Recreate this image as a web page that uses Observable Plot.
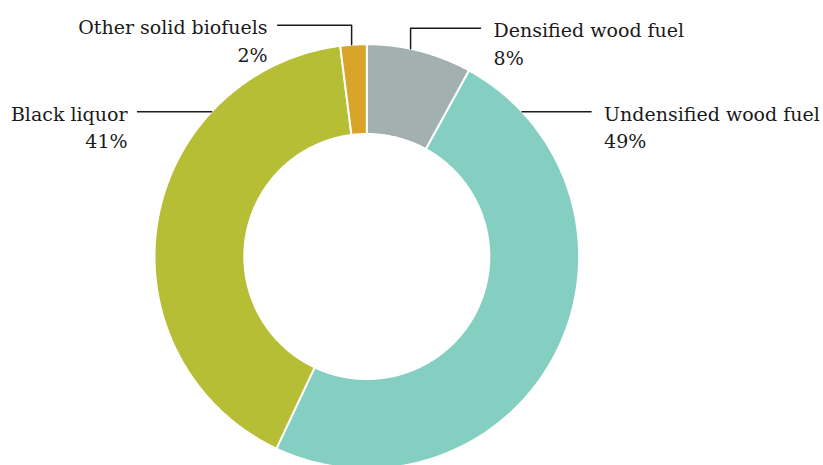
<!DOCTYPE html>
<html><head><meta charset="utf-8">
<script src="https://cdn.jsdelivr.net/npm/d3@7"></script>
<script src="https://cdn.jsdelivr.net/npm/@observablehq/plot@0.6"></script>
<style>html,body{margin:0;padding:0;background:#fff;overflow:hidden}</style>
</head><body><div id="chart"></div>
<script>
// ---- data ----
const categories = ["Densified wood fuel", "Undensified wood fuel", "Black liquor", "Other solid biofuels"];
const values = [8, 49, 41, 2];
const colors = ["#a3b0b0", "#85cec2", "#b6be35", "#d8a42a"];

// ---- layout (pixels / degrees) ----
const W = 823, H = 465;
const CX = 366.3, CY = 256, R = 212.3, INNER = 122.5 / 212.3;
// leader: anchor angle (deg from top, clockwise), vertical rise (px), horizontal run (px), text side
const leaders = [
  {angle: 11.9, rise: 20.5, run: 70, side: "start"},
  {angle: 47, rise: 0, run: 69, side: "start"},
  {angle: -47, rise: 0, run: -74, side: "end"},
  {angle: -4.1, rise: 19.5, run: -74, side: "end"}
];

const total = d3.sum(values);
const slices = [];
let cum = 0;
categories.forEach((cat, i) => {
  const a0 = cum / total * 2 * Math.PI;
  cum += values[i];
  const a1 = cum / total * 2 * Math.PI;
  const n = Math.max(4, Math.ceil((a1 - a0) / (Math.PI / 360)));
  const pts = [];
  for (let j = 0; j <= n; j++) { const a = a0 + (a1 - a0) * j / n; pts.push({cat, x: Math.sin(a), y: Math.cos(a)}); }
  for (let j = n; j >= 0; j--) { const a = a0 + (a1 - a0) * j / n; pts.push({cat, x: INNER * Math.sin(a), y: INNER * Math.cos(a)}); }
  pts.push({...pts[0]});
  slices.push(...pts);
});

const leaderPts = [];
const labels = [];
categories.forEach((cat, i) => {
  const L = leaders[i];
  const a = L.angle * Math.PI / 180;
  const p0 = {x: Math.sin(a), y: Math.cos(a)};
  const p1 = {x: p0.x, y: p0.y + L.rise / R};
  const p2 = {x: p1.x + L.run / R, y: p1.y};
  leaderPts.push({cat, ...p0}, {cat, ...p1}, {cat, ...p2});
  labels.push({cat, x: p2.x, y: p2.y, text: `${cat}\n${Math.round(values[i] / total * 100)}%`, side: L.side});
});

const chart = Plot.plot({
  width: W, height: H,
  margin: 0,
  x: {domain: [-CX / R, (W - CX) / R], axis: null},
  y: {domain: [-(H - CY) / R, CY / R], axis: null},
  color: {domain: categories, range: colors},
  style: {background: "#fff"},
  marks: [
    Plot.line(slices, {x: "x", y: "y", z: "cat", fill: "cat", stroke: "#fff", strokeWidth: 2, curve: "linear"}),
    Plot.line(leaderPts, {x: "x", y: "y", z: "cat", stroke: "#1a1a1a", strokeWidth: 1.5}),
    ...["start", "end"].map(side => Plot.text(labels.filter(d => d.side === side), {
      x: "x", y: "y", text: "text", textAnchor: side, lineAnchor: "bottom",
      lineHeight: 1.45, fontSize: 19, fontFamily: "DejaVu Serif", fill: "#1a1a1a",
      dx: side === "start" ? 13 : -10, dy: 36.5
    }))
  ]
});
document.getElementById("chart").appendChild(chart);
</script>
</body></html>
